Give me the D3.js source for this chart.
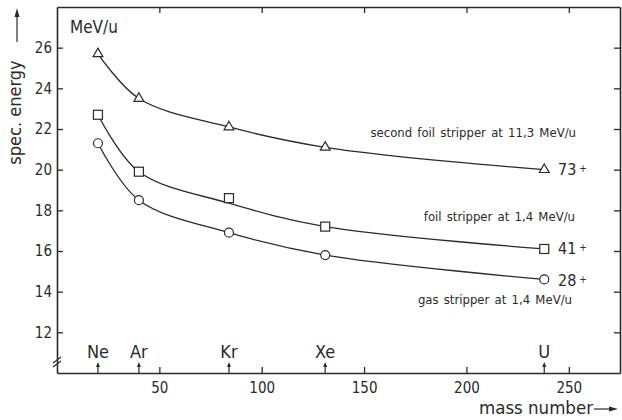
<!DOCTYPE html>
<html>
<head>
<meta charset="utf-8">
<script src="https://cdn.jsdelivr.net/npm/d3@7"></script>
<style>
  html, body { margin: 0; padding: 0; background: #fff; }
  svg { display: block; }
  text { font-family: "DejaVu Sans Condensed", "DejaVu Sans", sans-serif; fill: #2a2a2a; }
</style>
</head>
<body>
<svg id="chart" width="622" height="420"></svg>
<script>
// ---- data ----
const masses   = [20, 40, 84, 131, 238];
const elements = ["Ne", "Ar", "Kr", "Xe", "U"];
const secondFoil = [25.7, 23.5, 22.1, 21.1, 20.0];   // triangles, 73+
const foil       = [22.7, 19.9, 18.6, 17.2, 16.1];   // squares, 41+
const foilCurve  = [22.7, 19.9, 18.35, 17.2, 16.1];  // fitted line for squares
const gas        = [21.3, 18.5, 16.9, 15.8, 14.6];   // circles, 28+
const xTicks = [50, 100, 150, 200, 250];
const yTicks = [12, 14, 16, 18, 20, 22, 24, 26];
const seriesLabels = ["second foil stripper at 11,3 MeV/u", "foil stripper at 1,4 MeV/u", "gas stripper at 1,4 MeV/u"];
const chargeStates = ["73", "41", "28"];

const ink = "#2a2a2a";
const svg = d3.select("#chart");
const L = 57, T = 7, R = 620, B = 373;
const x = d3.scaleLinear().domain([0, 275]).range([L, R]);
const y = d3.scaleLinear().domain([10, 28]).range([B, T]);

// frame axes
const gB = svg.append("g").attr("transform", `translate(0,${B})`)
  .call(d3.axisBottom(x).tickValues(xTicks).tickSizeInner(-6).tickSizeOuter(0).tickPadding(9));
const gT = svg.append("g").attr("transform", `translate(0,${T})`)
  .call(d3.axisTop(x).tickValues(xTicks).tickSizeInner(-6).tickSizeOuter(0).tickFormat(""));
const gL = svg.append("g").attr("transform", `translate(${L},0)`)
  .call(d3.axisLeft(y).tickValues(yTicks).tickSizeInner(-6).tickSizeOuter(0).tickPadding(5));
const gR = svg.append("g").attr("transform", `translate(${R},0)`)
  .call(d3.axisRight(y).tickValues(yTicks).tickSizeInner(-6).tickSizeOuter(0).tickFormat(""));
[gB, gT, gL, gR].forEach(g => {
  g.select(".domain").attr("stroke", ink).attr("stroke-width", 1.6);
  g.selectAll(".tick line").attr("stroke", ink).attr("stroke-width", 1.3);
  g.selectAll(".tick text").attr("fill", ink).style("font-size", "15px");
});

// axis break marks
[0, 4].forEach(d => {
  svg.append("line").attr("x1", L - 4).attr("y1", 367 - d).attr("x2", L + 4).attr("y2", 361 - d)
    .attr("stroke", ink).attr("stroke-width", 1.2);
});

// element arrows + labels
elements.forEach((el, i) => {
  const xx = x(masses[i]);
  svg.append("line").attr("x1", xx).attr("x2", xx).attr("y1", B).attr("y2", B - 9)
    .attr("stroke", ink).attr("stroke-width", 1.2);
  svg.append("path").attr("d", `M${xx-2},${B-6}L${xx},${B-11}L${xx+2},${B-6}Z`).attr("fill", ink);
  svg.append("text").attr("x", xx).attr("y", 358).attr("text-anchor", "middle")
    .style("font-size", "18px").text(el);
});

// curves
const line = d3.line().x(d => x(d[0])).y(d => y(d[1])).curve(d3.curveCatmullRom.alpha(0.5));
[secondFoil, foilCurve, gas].forEach(vals => {
  svg.append("path").datum(masses.map((m, i) => [m, vals[i]]))
    .attr("d", line).attr("fill", "none").attr("stroke", ink).attr("stroke-width", 1.3);
});

// markers
const tri = d3.symbol().type(d3.symbolTriangle).size(42);
svg.append("g").selectAll("path").data(masses.map((m, i) => [m, secondFoil[i]])).join("path")
  .attr("transform", d => `translate(${x(d[0])},${y(d[1])})`).attr("d", tri)
  .attr("fill", "#fff").attr("stroke", ink).attr("stroke-width", 1.2);
svg.append("g").selectAll("rect").data(masses.map((m, i) => [m, foil[i]])).join("rect")
  .attr("x", d => x(d[0]) - 4.5).attr("y", d => y(d[1]) - 4.5).attr("width", 9).attr("height", 9)
  .attr("fill", "#fff").attr("stroke", ink).attr("stroke-width", 1.2);
svg.append("g").selectAll("circle").data(masses.map((m, i) => [m, gas[i]])).join("circle")
  .attr("cx", d => x(d[0])).attr("cy", d => y(d[1])).attr("r", 4.5)
  .attr("fill", "#fff").attr("stroke", ink).attr("stroke-width", 1.2);

// series annotations (right-aligned)
const annotY = [137, 221, 304];
const annotEnd = [576, 575, 572];
seriesLabels.forEach((s, i) => {
  svg.append("text").attr("x", annotEnd[i]).attr("y", annotY[i]).attr("text-anchor", "end")
    .style("font-size", "13px").style("word-spacing", "1.5px").text(s);
});
const chargeY = [175, 254, 286];
chargeStates.forEach((c, i) => {
  const t = svg.append("text").attr("x", 558).attr("y", chargeY[i]).style("font-size", "16px");
  t.append("tspan").text(c);
  t.append("tspan").attr("dx", 3).attr("dy", -3).style("font-size", "10px").text("+");
});

// unit label
svg.append("text").attr("x", 70).attr("y", 33)
  .style("font-size", "17px").text("MeV/u");

// y title with arrow
svg.append("text").attr("transform", "translate(21,112.5) rotate(-90)").attr("text-anchor", "middle")
  .style("font-size", "18px").text("spec. energy");
svg.append("line").attr("x1", 17).attr("x2", 17).attr("y1", 42).attr("y2", 12)
  .attr("stroke", ink).attr("stroke-width", 1.2);
svg.append("path").attr("d", "M14.5,17L17,8L19.5,17Z").attr("fill", ink);

// x title with arrow
svg.append("text").attr("x", 593).attr("y", 414).attr("text-anchor", "end")
  .style("font-size", "18.5px").text("mass number");
svg.append("line").attr("x1", 594).attr("x2", 612).attr("y1", 409).attr("y2", 409)
  .attr("stroke", ink).attr("stroke-width", 1.2);
svg.append("path").attr("d", "M609,406.5L618,409L609,411.5Z").attr("fill", ink);
</script>
</body>
</html>
